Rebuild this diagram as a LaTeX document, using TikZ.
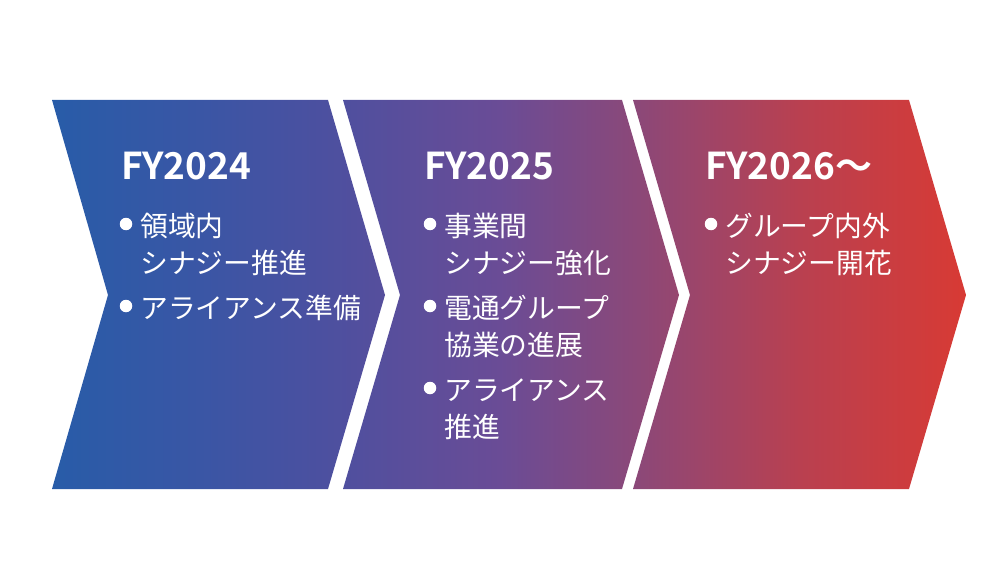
\documentclass[tikz,border=0pt]{standalone}
\usepackage{fontspec}
\setmainfont{Noto Sans CJK JP}[BoldFont={Noto Sans CJK JP Bold}]
\usetikzlibrary{positioning}

\definecolor{fyblue}{RGB}{40,92,168}
\definecolor{fyblueb}{RGB}{58,86,165}
\definecolor{fyindigo}{RGB}{75,80,160}
\definecolor{fypurple}{RGB}{106,76,150}
\definecolor{fyplum}{RGB}{140,72,120}
\definecolor{fyrose}{RGB}{185,64,80}
\definecolor{fyred}{RGB}{216,58,52}

\pgfdeclarehorizontalshading{fyshade}{100bp}{color(0bp)=(fyblue); color(25bp)=(fyblue);
  color(33.1bp)=(fyblueb); color(39.6bp)=(fyindigo); color(49.5bp)=(fypurple);
  color(57.1bp)=(fyplum); color(65.9bp)=(fyrose); color(75bp)=(fyred); color(100bp)=(fyred)}

\begin{document}
\begin{tikzpicture}[x=1pt,y=-1pt,
  year/.style={anchor=base west,inner sep=0pt,text=white,font=\fontsize{37}{42}\selectfont\bfseries},
  item/.style={anchor=base west,inner sep=0pt,text=white,align=left,font=\fontsize{27.8}{37}\selectfont},
  dot/.style={circle,fill=white,inner sep=0pt,minimum size=12.5pt}]
  \useasboundingbox (0,0) rectangle (1006,588);

% the three chevrons, one shading across all
  \shade[shading=fyshade]
    (52,100) -- (328,100) -- (385,295) -- (328,489) -- (52,489) -- (108,295) -- cycle
    (343,100) -- (622,100) -- (679,295) -- (622,489) -- (343,489) -- (400,295) -- cycle
    (633,100) -- (909,100) -- (966,295) -- (909,489) -- (633,489) -- (690,295) -- cycle;

% years
  \node[year] (fy24) at (121,179) {FY2024};
  \node[year] (fy25) at (424,179) {FY2025};
  \node[year] (fy26) at (705,179) {FY2026～};

% items (base = last line)
  \node[item] (a1) at (140,273) {領域内\\シナジー推進};
  \node[item] (a2) at (140,318) {アライアンス準備};
  \node[item] (b1) at (444,273) {事業間\\シナジー強化};
  \node[item] (b2) at (444,355) {電通グループ\\協業の進展};
  \node[item] (b3) at (444,437) {アライアンス\\推進};
  \node[item] (c1) at (725,273) {グループ内外\\シナジー開花};

% bullets
  \foreach \n/\s in {a1/49,a2/12,b1/49,b2/49,b3/49,c1/49}
    \node[dot] at ([xshift=-14pt,yshift=\s pt]\n.base west) {};
\end{tikzpicture}
\end{document}
